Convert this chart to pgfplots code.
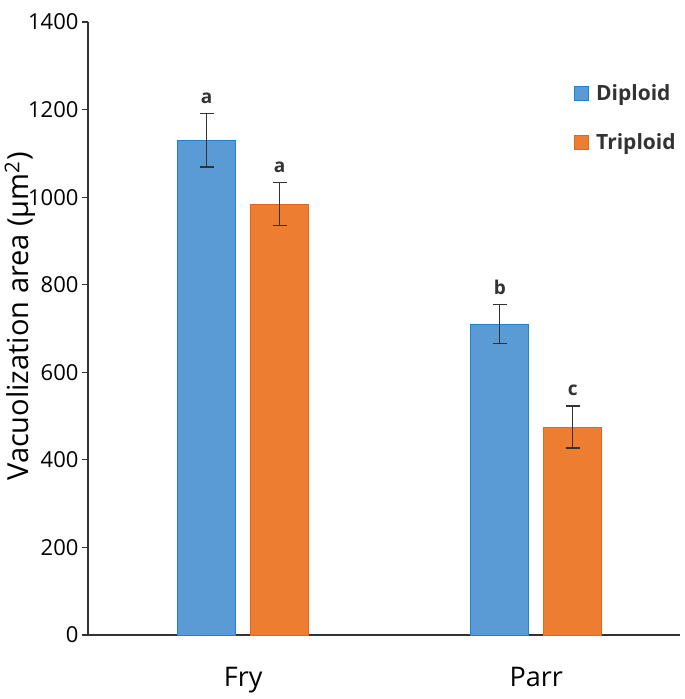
\documentclass[border=0pt]{standalone}
\usepackage{pgfplots}
\pgfplotsset{compat=1.18}
\usetikzlibrary{calc}
\usepackage{fontspec}
\setmainfont{Open Sans}
\definecolor{dipfill}{RGB}{91,155,213}
\definecolor{dipedge}{RGB}{30,130,210}
\definecolor{tripfill}{RGB}{237,125,49}
\definecolor{tripedge}{RGB}{235,100,20}
\definecolor{errc}{RGB}{50,50,50}
\begin{document}
\begin{tikzpicture}
\begin{axis}[
  name=ax,
  scale only axis,
  width=592pt, height=613pt,
  xmin=-0.529, xmax=1.49,
  ymin=0, ymax=1400,
  axis x line*=bottom, axis y line*=left,
  axis line style={line width=1.2pt, color=black!80},
  xtick={0,1}, xticklabels={Fry,Parr},
  x tick style={draw=none},
  xticklabel style={yshift=-23pt, font=\fontsize{27}{31}\selectfont},
  ytick={0,200,...,1400},
  y tick style={line width=1.2pt, color=black!80},
  tick align=outside,
  major tick length=6pt,
  /pgf/number format/assume math mode=true,
  /pgf/number format/1000 sep={},
  yticklabel style={font=\fontsize{22}{26}\selectfont},
  ylabel={Vacuolization area (μm\textsuperscript{2})},
  ylabel style={font=\fontsize{29}{34}\selectfont, yshift=-14pt, xshift=12pt},
  ybar, bar width=58pt,
  legend style={draw=none, fill=none, at={(0.82,0.902)}, anchor=north west,
    inner sep=0pt,
    font=\fontsize{21}{24}\selectfont\bfseries\color{black!80}, row sep=28pt},
  legend cell align=left,
  legend image code/.code={\fill[#1] (0pt,-7pt) rectangle (14pt,7pt); \path[draw=none,fill=none] (0pt,0pt) -- (20pt,0pt);},
]
\addplot[bar shift=-36.5pt, fill=dipfill, draw=dipedge, line width=1pt,
  error bars/.cd, y dir=both, y explicit,
  error bar style={color=errc, line width=1.3pt},
  error mark options={rotate=90, mark size=7pt, line width=1.3pt, color=errc}]
  coordinates {(0,1130) +- (0,61) (1,710) +- (0,45)};
\addlegendentry{Diploid}
\addplot[bar shift=36.5pt, fill=tripfill, draw=tripedge, line width=1pt,
  error bars/.cd, y dir=both, y explicit,
  error bar style={color=errc, line width=1.3pt},
  error mark options={rotate=90, mark size=7pt, line width=1.3pt, color=errc}]
  coordinates {(0,984) +- (0,49) (1,475) +- (0,48)};
\addlegendentry{Triploid}
\addplot[bar shift=-36.5pt, draw=none, fill=none, forget plot,
  nodes near coords, point meta=explicit symbolic,
  every node near coord/.append style={font=\fontsize{19}{22}\selectfont\bfseries, color=black!80, anchor=base, yshift=10pt}]
  coordinates {(0,1191)[a] (1,755)[b]};
\addplot[bar shift=36.5pt, draw=none, fill=none, forget plot,
  nodes near coords, point meta=explicit symbolic,
  every node near coord/.append style={font=\fontsize{19}{22}\selectfont\bfseries, color=black!80, anchor=base, yshift=10pt}]
  coordinates {(0,1033)[a] (1,523)[c]};
\end{axis}
\pgfresetboundingbox
\path ($(ax.south west)+(-88pt,-64pt)$) rectangle ($(ax.north east)+(5pt,22pt)$);
\end{tikzpicture}
\end{document}
